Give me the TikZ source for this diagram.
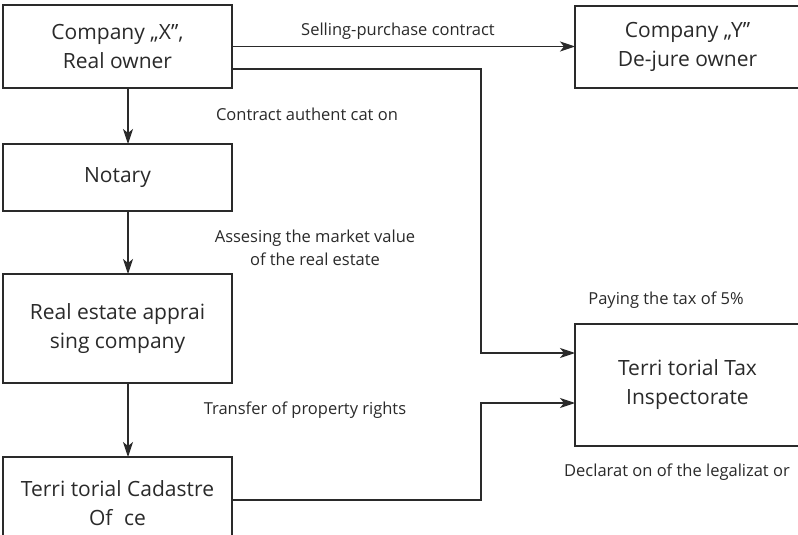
\documentclass[tikz,border=0pt]{standalone}
\usepackage{fontspec}
\setmainfont{Open Sans}
\usetikzlibrary{arrows.meta}
\definecolor{ink}{HTML}{2A2A2A}
\tikzset{
  box/.style={draw=ink, line width=1.1pt, inner sep=0pt, outer sep=0pt,
    align=center, text=ink, font=\fontsize{21}{29}\selectfont},
  lbl/.style={text=ink, inner sep=0pt, align=center, font=\fontsize{16.5}{23}\selectfont},
  arr/.style={draw=ink, line width=1.1pt, -{Stealth[length=15pt,width=10pt,inset=4pt]}},
}
\begin{document}
\begin{tikzpicture}[x=1pt,y=-1pt]
\useasboundingbox (0,0) rectangle (798,535);
\clip (0,0) rectangle (798,535);
\fill[white] (0,0) rectangle (798,535);

% boxes
\node[box, minimum width=229pt, minimum height=83pt] (cx) at (117.5,46.5) {Company „X”,\\Real owner};
\node[box, minimum width=225pt, minimum height=82pt] (cy) at (687.5,47) {Company „Y”\\De-jure owner};
\node[box, minimum width=229pt, minimum height=67pt] (notary) at (117.5,177.5) {Notary};
\node[box, minimum width=229pt, minimum height=109pt] (appr) at (117.5,328.5) {Real estate apprai\\sing company};
\node[box, minimum width=229pt, minimum height=93pt] (cad) at (117.5,503.5) {Terri torial Cadastre\\Of\hspace{0.55em}ce};
\node[box, minimum width=225pt, minimum height=122pt] (tax) at (687.5,385) {Terri torial Tax\\Inspectorate};

% labels
\node[lbl] (l1) at (398,31) {Selling-purchase contract};
\node[lbl] (l2) at (307,114) {Contract authent cat on};
\node[lbl] (l3) at (315,248) {Assesing the market value\\of the real estate};
\node[lbl] (l4) at (666,300) {Paying the tax of 5\%};
\node[lbl] (l5) at (305,410) {Transfer of property rights};
\node[lbl, anchor=west] (l6) at (564,472) {Declarat on of the legalizat or};

% connectors
\draw[arr] (cx.east) -- (cx.east -| cy.west);
\draw[arr] ([yshift=-22.5pt]cx.east) -- ++(249,0) |- ([yshift=32pt]tax.west);
\draw[arr] ([yshift=3.5pt]cad.east) -- ++(249,0) |- ([yshift=-18pt]tax.west);
\draw[arr] ([xshift=10.5pt]cx.south) -- ([xshift=10.5pt]notary.north);
\draw[arr] ([xshift=10.5pt]notary.south) -- ([xshift=10.5pt]appr.north);
\draw[arr] ([xshift=10.5pt]appr.south) -- ([xshift=10.5pt]cad.north);
\end{tikzpicture}
\end{document}
